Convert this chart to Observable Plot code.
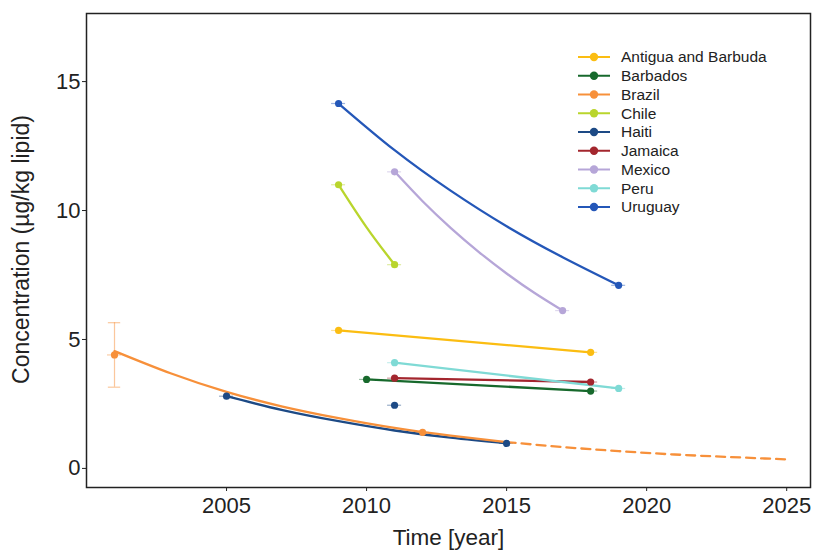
<!DOCTYPE html>
<html><head><meta charset="utf-8">
<script src="https://cdn.jsdelivr.net/npm/d3@7"></script>
<script src="https://cdn.jsdelivr.net/npm/@observablehq/plot@0.6"></script>
<style>
body{margin:0;background:#fff;}
#wrap{position:relative;width:813px;height:550px;font-family:"Liberation Sans",Arial,sans-serif;}
#legend{position:absolute;left:574px;top:47px;}
</style></head><body><div id="wrap"><div id="chart"></div><svg id="legend" width="230" height="180"></svg></div>
<script>
const countries = ["Antigua and Barbuda","Barbados","Brazil","Chile","Haiti","Jamaica","Mexico","Peru","Uruguay"];
const colors = ["#fbbd12","#17692c","#f7903a","#b9d52c","#1d4a85","#a3262e","#b6a6d8","#7fdad5","#2457b8"];

// measured points
const pointCountry = ["Antigua and Barbuda","Antigua and Barbuda","Barbados","Barbados","Brazil","Brazil","Chile","Chile","Haiti","Haiti","Haiti","Jamaica","Jamaica","Mexico","Mexico","Peru","Peru","Uruguay","Uruguay"];
const pointYear  = [2009,2018,2010,2018,2001,2012,2009,2011,2005,2011,2015,2011,2018,2011,2017,2011,2019,2009,2019];
const pointValue = [5.35,4.5,3.45,3.0,4.4,1.4,11.0,7.9,2.8,2.45,0.97,3.5,3.35,11.5,6.12,4.1,3.1,14.15,7.1];

// Brazil error bar
const errYear = [2001], errLow = [3.15], errHigh = [5.65];

// trend curves
const antiguaYears = [2009,2018], antiguaValues = [5.35,4.5];
const barbadosYears = [2010,2018], barbadosValues = [3.45,3.0];
const jamaicaYears = [2011,2018], jamaicaValues = [3.5,3.35];
const peruYears = [2011,2019], peruValues = [4.1,3.1];
const chileYears = [2009,2010,2011], chileValues = [11.0,9.35,7.9];
const mexicoYears = [2011,2012,2013,2014,2015,2016,2017], mexicoValues = [11.51,10.36,9.33,8.40,7.56,6.80,6.12];
const uruguayYears = [2009,2011,2013,2015,2017,2019], uruguayValues = [14.15,12.34,10.77,9.39,8.19,7.10];
const haitiYears = [2005,2007,2009,2011,2013,2015], haitiValues = [2.80,2.26,1.83,1.47,1.19,0.97];
const brazilYears = [2001,2003,2005,2007,2009,2011,2013,2015], brazilValues = [4.55,3.69,2.97,2.40,1.95,1.57,1.27,1.02];
const brazilProjYears = [2015,2017,2019,2021,2023,2025], brazilProjValues = [1.02,0.83,0.67,0.54,0.44,0.35];

const xTicks = [2005,2010,2015,2020,2025];
const yTicks = [0,5,10,15];

const rows = (country, ys, vs) => ys.map((y,i) => ({country, year:y, value:vs[i]}));
const curves = [
  ...rows("Antigua and Barbuda", antiguaYears, antiguaValues),
  ...rows("Barbados", barbadosYears, barbadosValues),
  ...rows("Jamaica", jamaicaYears, jamaicaValues),
  ...rows("Peru", peruYears, peruValues),
  ...rows("Chile", chileYears, chileValues),
  ...rows("Mexico", mexicoYears, mexicoValues),
  ...rows("Uruguay", uruguayYears, uruguayValues),
  ...rows("Haiti", haitiYears, haitiValues),
  ...rows("Brazil", brazilYears, brazilValues)
];
const proj = rows("Brazil", brazilProjYears, brazilProjValues);
const points = pointYear.map((y,i) => ({country: pointCountry[i], year: y, value: pointValue[i]}));
const errs = errYear.map((y,i) => ({country:"Brazil", year:y, lo:errLow[i], hi:errHigh[i]}));

const font = "'Liberation Sans', Arial, sans-serif";
const chart = Plot.plot({
  width: 813, height: 550,
  marginLeft: 86, marginRight: 3, marginTop: 13, marginBottom: 63,
  style: {fontFamily: font, color: "#222", background: "#fff"},
  x: {domain: [2000, 2025.85]},
  y: {domain: [-0.74, 17.64]},
  color: {domain: countries, range: colors},
  marks: [
    Plot.ruleX(errs, {x: "year", y1: "lo", y2: "hi", stroke: "country", strokeOpacity: 0.5, strokeWidth: 1.2}),
    Plot.ruleY(errs, {y: "lo", x1: d => d.year - 0.22, x2: d => d.year + 0.22, stroke: "country", strokeOpacity: 0.5, strokeWidth: 1.2}),
    Plot.ruleY(errs, {y: "hi", x1: d => d.year - 0.22, x2: d => d.year + 0.22, stroke: "country", strokeOpacity: 0.5, strokeWidth: 1.2}),
    Plot.ruleY(points, {y: "value", x1: d => d.year - 0.25, x2: d => d.year + 0.25, stroke: "country", strokeOpacity: 0.45, strokeWidth: 1.2}),
    Plot.line(curves, {x: "year", y: "value", z: "country", stroke: "country", strokeWidth: 2.3, curve: "natural"}),
    Plot.line(proj, {x: "year", y: "value", stroke: "country", strokeWidth: 2.3, strokeDasharray: "9,6", curve: "natural"}),
    Plot.dot(points, {x: "year", y: "value", fill: "country", r: 3.6}),
    Plot.frame({stroke: "#222", strokeWidth: 1.5}),
    Plot.axisX({ticks: xTicks, tickFormat: d => String(d), tickSize: 4, tickPadding: 6, fontSize: 22, label: null}),
    Plot.axisY({ticks: yTicks, tickSize: 4, tickPadding: 2, fontSize: 22, label: null}),
    Plot.text(["Time [year]"], {text: d => d, frameAnchor: "bottom", lineAnchor: "middle", dy: 50.5, fontSize: 22.5, fill: "#222"}),
    Plot.text(["Concentration (µg/kg lipid)"], {text: d => d, frameAnchor: "left", textAnchor: "middle", lineAnchor: "middle", rotate: -90, dx: -65, dy: -1, fontSize: 23, fill: "#222"})
  ]
});
document.getElementById("chart").append(chart);

// legend
const lg = d3.select("#legend");
countries.forEach((c, i) => {
  const y = 10 + i * 18.75;
  const g = lg.append("g");
  g.append("line").attr("x1", 4).attr("x2", 36).attr("y1", y).attr("y2", y).attr("stroke", colors[i]).attr("stroke-width", 2);
  g.append("circle").attr("cx", 20).attr("cy", y).attr("r", 4.2).attr("fill", colors[i]);
  g.append("text").attr("x", 47).attr("y", y).attr("dy", "0.35em").attr("font-size", "15.5px").attr("font-family", font).attr("fill", "#222").text(c);
});
</script></body></html>
